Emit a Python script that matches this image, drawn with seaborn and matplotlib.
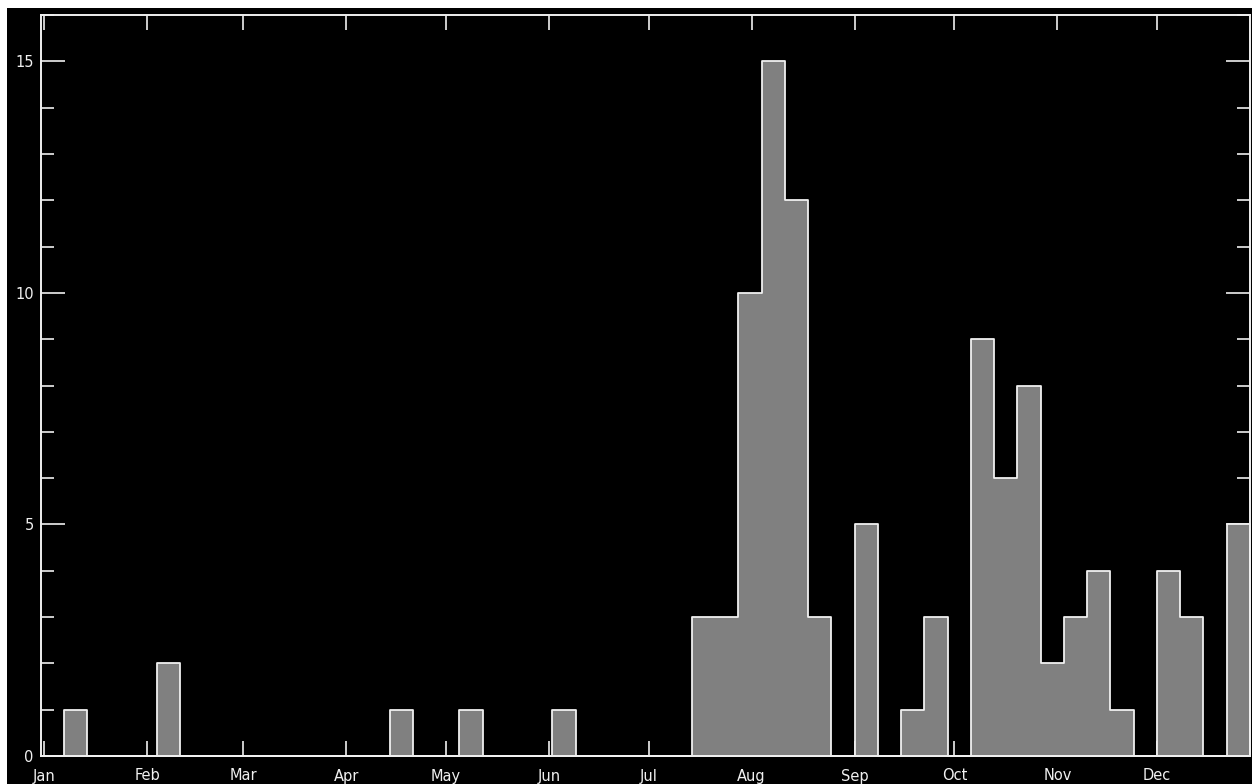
# Weekly counts over one (leap) year, drawn as a filled step histogram
import numpy as np
import pandas as pd
import seaborn as sns
import matplotlib.pyplot as plt
from matplotlib.patches import Rectangle
from matplotlib.ticker import MultipleLocator

# counts per 7-day bin, bins start at day 0
week_counts = [
    0, 1, 0, 0, 0, 2, 0, 0, 0, 0,
    0, 0, 0, 0, 0, 1, 0, 0, 1, 0,
    0, 0, 1, 0, 0, 0, 0, 0, 3, 3,
    10, 15, 12, 3, 0, 5, 0, 1, 3, 0,
    9, 6, 8, 2, 3, 4, 1, 0, 4, 3,
    0, 5,
]
month_labels = ["Jan", "Feb", "Mar", "Apr", "May", "Jun",
                "Jul", "Aug", "Sep", "Oct", "Nov", "Dec"]
month_days = [31, 29, 31, 30, 31, 30, 31, 31, 30, 31, 30, 31]

BIN = 7
n_bins = len(week_counts)
month_starts = np.concatenate([[1], 1 + np.cumsum(month_days[:-1])])

df = pd.DataFrame({"day": np.arange(n_bins) * BIN + BIN / 2, "count": week_counts})

FG = "#f0f0f0"

sns.set_style("dark")
fig = plt.figure(figsize=(12.52, 7.84), dpi=100, facecolor="white")
# black backdrop, leaves a thin white band at top and left like the original
fig.patches.append(Rectangle((7 / 1252, 0), 1, 1 - 8 / 784,
                             transform=fig.transFigure, facecolor="black",
                             edgecolor="none", zorder=-10))
ax = fig.add_axes([40.75 / 1252, 28 / 784, (1250 - 40.75) / 1252, (756 - 15) / 784])
ax.set_facecolor("black")

sns.histplot(data=df, x="day", weights="count", binwidth=BIN,
             binrange=(0, BIN * n_bins), element="step",
             fill=True, color="#808080", edgecolor=FG, linewidth=1.3,
             alpha=1, ax=ax)

ax.set_xlim(0, BIN * n_bins)
ax.set_ylim(0, 16)
ax.set_xlabel("")
ax.set_ylabel("")
ax.grid(False)

ax.set_xticks(month_starts)
ax.set_xticklabels(month_labels)
ax.yaxis.set_major_locator(MultipleLocator(5))
ax.yaxis.set_minor_locator(MultipleLocator(1))

ax.tick_params(axis="x", which="major", direction="in", top=True, bottom=True,
               length=10.8, width=1.2, color=FG, labelcolor=FG,
               labelsize=10.5, pad=9)
ax.tick_params(axis="y", which="major", direction="in", left=True, right=True,
               length=17, width=1.2, color=FG, labelcolor=FG,
               labelsize=10.5, pad=5)
ax.tick_params(axis="y", which="minor", direction="in", left=True, right=True,
               length=9.4, width=1.2, color=FG)

for sp in ax.spines.values():
    sp.set_visible(True)
    sp.set_color(FG)
    sp.set_linewidth(1.4)

plt.savefig("out.png", dpi=100, facecolor=fig.get_facecolor())
